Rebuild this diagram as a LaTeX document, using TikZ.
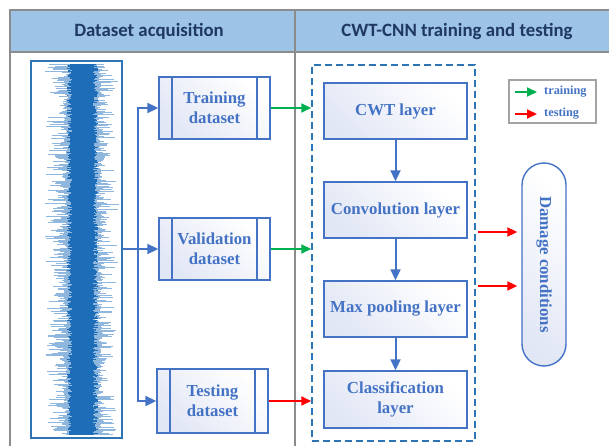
\documentclass[tikz,border=0pt]{standalone}
\usepackage{fontspec}
\usepackage{graphicx}
\setmainfont{Liberation Serif}
\newfontfamily\hdrfont{Carlito}
\usetikzlibrary{arrows.meta,calc}
\definecolor{hdrfill}{HTML}{9DC3E6}
\definecolor{hdrtext}{HTML}{1F3864}
\definecolor{gridgray}{HTML}{8C8C8C}
\definecolor{boxblue}{HTML}{4472C4}
\definecolor{dashblue}{HTML}{2E75B6}
\definecolor{wavecol}{HTML}{1E6DB8}
\definecolor{shadetop}{HTML}{E2E7F5}
\definecolor{arrgreen}{HTML}{00B050}
\definecolor{arrred}{HTML}{FF0000}
\tikzset{
  hdrtxt/.style={text=hdrtext, font=\hdrfont\fontsize{18.8}{22}\selectfont\bfseries},
  gbox/.style={draw=boxblue, line width=1.4pt, left color=shadetop, right color=white, shading angle=135,
    text=boxblue, font=\fontsize{16.8}{20}\selectfont\bfseries, align=center, inner sep=0pt},
  dsbox/.style={gbox, minimum width=111pt,
    path picture={
      \draw[boxblue, line width=1.4pt] ([xshift=13pt]path picture bounding box.north west) -- ([xshift=13pt]path picture bounding box.south west);
      \draw[boxblue, line width=1.4pt] ([xshift=-13pt]path picture bounding box.north east) -- ([xshift=-13pt]path picture bounding box.south east);
    }},
  layerbox/.style={gbox, minimum width=143pt, minimum height=56pt},
  bluearr/.style={draw=boxblue, line width=2pt, -{Triangle[length=11pt,width=10pt]}},
  greenarr/.style={draw=arrgreen, line width=1.8pt, -{Triangle[length=10pt,width=9pt]}},
  redarr/.style={draw=arrred, line width=1.8pt, -{Triangle[length=10pt,width=9pt]}},
  legtxt/.style={text=boxblue, font=\fontsize{12.3}{14}\selectfont\bfseries, anchor=west, inner sep=0pt},
  grid/.style={draw=gridgray, line width=1.6pt},
}
\begin{document}
\begin{tikzpicture}[x=1pt, y=-1pt]
\useasboundingbox (0,0) rectangle (609,446);
% table header
\fill[hdrfill] (10,10) rectangle (609,52);
\draw[grid] (609,10) -- (10,10) -- (10,446);
\draw[grid] (10,52) -- (609,52);
\draw[grid] (295,10) -- (295,446);
\node[hdrtxt] (h1) at (149,31) {Dataset acquisition};
\node[hdrtxt] (h2) at (457,31) {CWT-CNN training and testing};

% waveform
\pgfmathsetseed{7}
\foreach \i in {0,...,740}{
  \pgfmathsetmacro{\yy}{64+\i*0.5}
  \pgfmathsetmacro{\xl}{83-(11+9*rnd+20*rnd^4)}
  \pgfmathsetmacro{\xr}{83+(11+8*rnd+18*rnd^4)}
  \pgfmathsetmacro{\cl}{83-(11+5*rnd)}
  \pgfmathsetmacro{\cr}{83+(10+5*rnd)}
  \draw[wavecol!50, line width=0.55pt] (\xl,\yy) -- (\xr,\yy);
  \draw[wavecol, line width=0.6pt] (\cl,\yy) -- (\cr,\yy);
}
\node[draw=dashblue, line width=1.3pt, minimum width=91pt, minimum height=377pt, inner sep=0pt] (sig) at (76.5,249.5) {};

% dataset boxes
\node[dsbox, minimum height=62pt] (train) at (214.5,108) {Training\\dataset};
\node[dsbox, minimum height=62pt] (val) at (214.5,249) {Validation\\dataset};
\node[dsbox, minimum height=64pt] (test) at (212.5,401) {Testing\\dataset};

\coordinate (br) at (138,249);
\draw[boxblue, line width=2pt] (sig.east |- br) -- (br);
\draw[bluearr] (br) -- (val.west);
\draw[bluearr] (br) |- (train.west);
\draw[bluearr] (br) |- (test.west);

% network
\node[draw=dashblue, line width=1.5pt, dash pattern=on 7pt off 4pt, minimum width=163pt, minimum height=376pt, inner sep=0pt] (net) at (393.5,253) {};
\node[layerbox] (cwt) at (395.5,111) {CWT layer};
\node[layerbox] (conv) at (395.5,210) {Convolution layer};
\node[layerbox] (pool) at (395.5,309) {Max pooling layer};
\node[layerbox, minimum height=57pt] (cls) at (395.5,399.5) {Classification\\layer};
\draw[bluearr] (cwt) -- (conv);
\draw[bluearr] (conv) -- (pool);
\draw[bluearr] (pool) -- (cls);

\draw[greenarr] (train.east) -- (train.east -| net.west);
\draw[greenarr] (val.east) -- (val.east -| net.west);
\draw[redarr] (test.east) -- (test.east -| net.west);

% damage conditions
\node[gbox, minimum width=44pt, minimum height=203pt, rounded corners=22pt] (dmg) at (544,264.5) {\rotatebox{-90}{Damage conditions}};
\coordinate (r1) at ($(net.east)+(2,-21)$);
\coordinate (r2) at ($(net.east)+(2,33)$);
\draw[redarr, shorten >=4pt] (r1) -- (r1 -| dmg.west);
\draw[redarr, shorten >=4pt] (r2) -- (r2 -| dmg.west);

% legend
\node[draw=gridgray!80, line width=1.4pt, fill=white, minimum width=87pt, minimum height=43pt, inner sep=0pt] (leg) at (552.5,101.5) {};
\coordinate (lg1) at (515,92);
\coordinate (lg2) at (515,114);
\draw[greenarr] (lg1) -- ++(22,0);
\draw[redarr] (lg2) -- ++(22,0);
\node[legtxt] (lt1) at (544,92) {training};
\node[legtxt] (lt2) at (544,114) {testing};
\end{tikzpicture}
\end{document}
